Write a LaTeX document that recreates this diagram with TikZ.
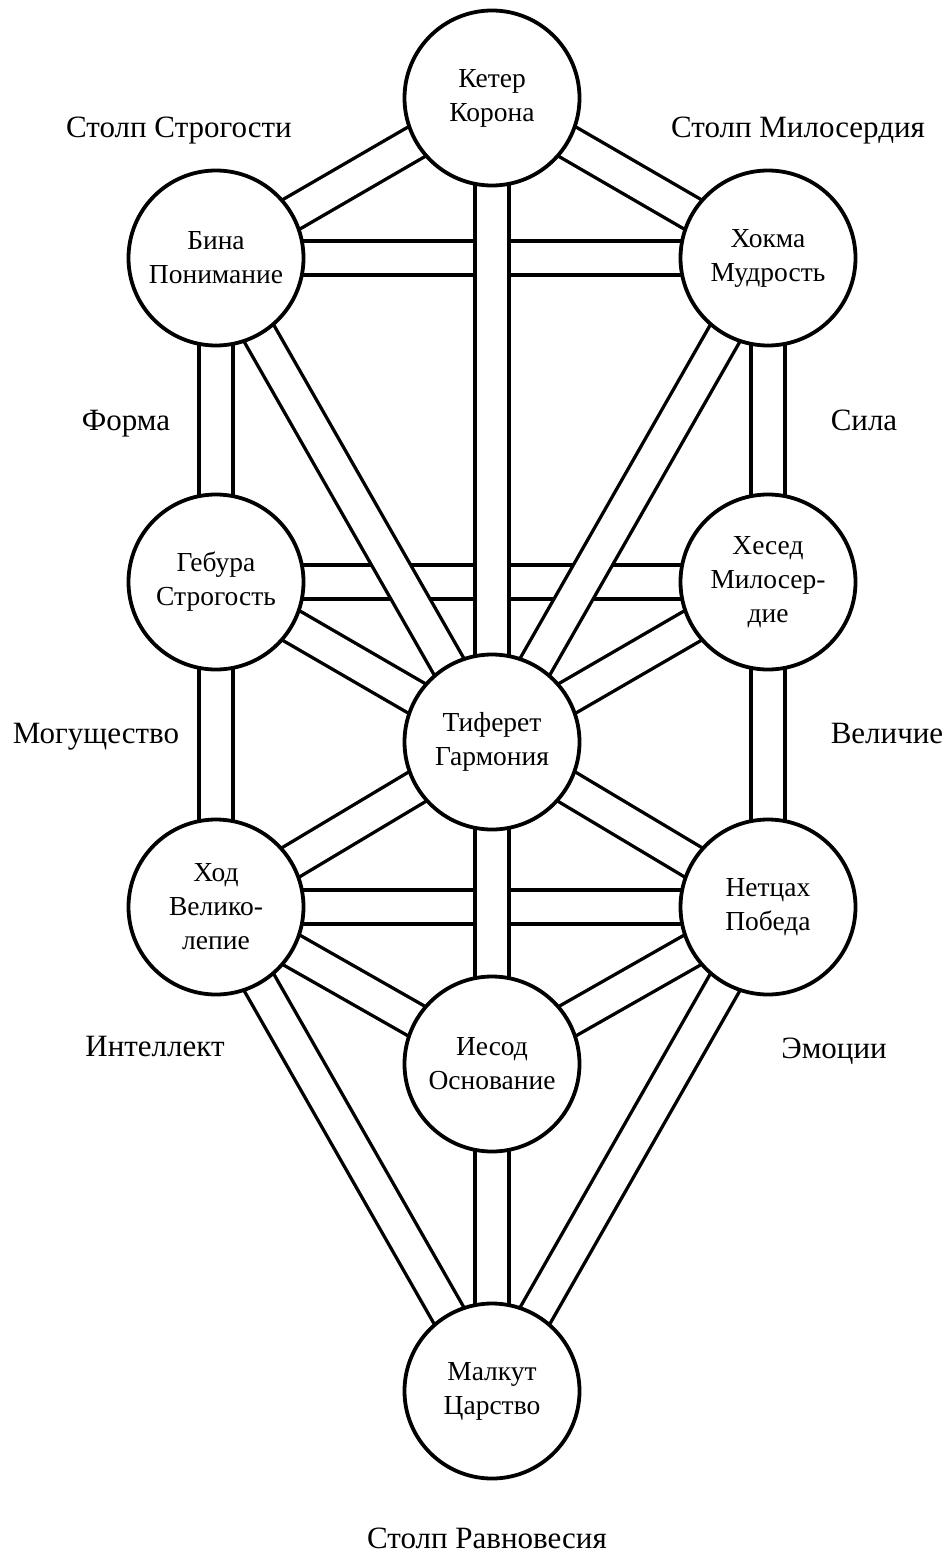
\documentclass[tikz,border=0pt]{standalone}
\usepackage{fontspec}
\setmainfont{Liberation Serif}
\pgfdeclarelayer{chans}
\pgfsetlayers{chans,main}
\begin{document}
\begin{tikzpicture}[x=1pt,y=-1pt,
  sef/.style={circle, draw=black, line width=3.8pt, fill=white, minimum size=175pt, inner sep=0pt, align=center, font=\fontsize{27.5}{34}\selectfont},
  chan/.style={draw=black, line width=3.4pt, double=white, double distance=30.5pt},
  lbl/.style={anchor=base, inner sep=0pt, font=\fontsize{31}{37}\selectfont}]
\useasboundingbox (0,0) rectangle (945,1554);

% Sefirot
\node[sef] (keter)   at (492,98)   {Кетер\\Корона};
\node[sef] (bina)    at (216,258)  {Бина\\Понимание};
\node[sef] (hokhma)  at (768,258)  {Хокма\\Мудрость};
\node[sef] (gevura)  at (216,582)  {Гебура\\Строгость};
\node[sef] (hesed)   at (768,582)  {Хесед\\Милосер-\\дие};
\node[sef] (tiferet) at (492,742)  {Тиферет\\Гармония};
\node[sef] (hod)     at (216,907)  {Ход\\Велико-\\лепие};
\node[sef] (netzach) at (768,907)  {Нетцах\\Победа};
\node[sef] (yesod)   at (492,1064) {Иесод\\Основание};
\node[sef] (malkut)  at (492,1391) {Малкут\\Царство};

% Channels
\begin{pgfonlayer}{chans}
\fill[white] (0,0) rectangle (945,1554);
\draw[chan] (bina.center) -- (hokhma.center);
\draw[chan] (gevura.center) -- (hesed.center);
\draw[chan] (hod.center) -- (netzach.center);
\draw[chan] (keter.center) -- (bina.center);
\draw[chan] (keter.center) -- (hokhma.center);
\draw[chan] (keter.center) -- (tiferet.center);
\draw[chan] (bina.center) -- (gevura.center);
\draw[chan] (bina.center) -- (tiferet.center);
\draw[chan] (hokhma.center) -- (hesed.center);
\draw[chan] (hokhma.center) -- (tiferet.center);
\draw[chan] (gevura.center) -- (tiferet.center);
\draw[chan] (hesed.center) -- (tiferet.center);
\draw[chan] (gevura.center) -- (hod.center);
\draw[chan] (hesed.center) -- (netzach.center);
\draw[chan] (tiferet.center) -- (hod.center);
\draw[chan] (tiferet.center) -- (netzach.center);
\draw[chan] (tiferet.center) -- (yesod.center);
\draw[chan] (hod.center) -- (yesod.center);
\draw[chan] (netzach.center) -- (yesod.center);
\draw[chan] (hod.center) -- (malkut.center);
\draw[chan] (netzach.center) -- (malkut.center);
\draw[chan] (yesod.center) -- (malkut.center);
\end{pgfonlayer}

% Labels
\node[lbl] (l1) at (179,138)  {Столп Строгости};
\node[lbl] (l2) at (798,138)  {Столп Милосердия};
\node[lbl] (l3) at (126,430)  {Форма};
\node[lbl] (l4) at (864,430)  {Сила};
\node[lbl] (l5) at (96,743)   {Могущество};
\node[lbl] (l6) at (887,743)  {Величие};
\node[lbl] (l7) at (155,1056) {Интеллект};
\node[lbl] (l8) at (834,1058) {Эмоции};
\node[lbl] (l9) at (487,1548) {Столп Равновесия};
\end{tikzpicture}
\end{document}
